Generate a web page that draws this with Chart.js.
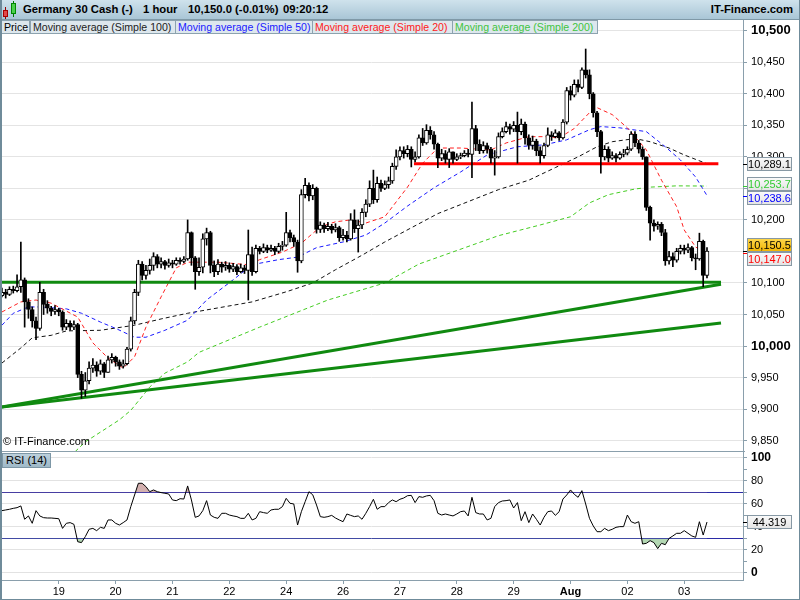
<!DOCTYPE html>
<html>
<head>
<meta charset="utf-8">
<title>Germany 30 Cash - 1 hour</title>
<script src="https://cdn.jsdelivr.net/npm/chart.js@4.4.1/dist/chart.umd.min.js"></script>
<style>
  body { margin: 0; background: #fff; font-family: "Liberation Sans", Arial, sans-serif; }
  #wrap { position: relative; width: 800px; height: 600px; overflow: hidden; background: #fff; }
  #head { position: absolute; left: 0; top: 0; width: 800px; height: 20px; box-sizing: border-box;
    background: linear-gradient(#cfe2ec, #a9c6d6); border-bottom: 1px solid #7f99a7;
    font-size: 11.3px; font-weight: bold; color: #000; }
  #head span { position: absolute; top: 3px; white-space: nowrap; }
  .ico { position: absolute; box-sizing: border-box; border: 1px solid; }
  .wick { position: absolute; width: 1px; }
  #legend div { position: absolute; top: 20px; height: 14px; box-sizing: border-box; border: 1px solid #8ca2ae;
    background: #dde7ed; font-size: 10.6px; line-height: 12px; padding-left: 2px; white-space: nowrap; overflow: hidden; }
  canvas { position: absolute; left: 0; }
  #main { top: 20px; }
  #rsiChart { top: 452px; }
  #sep { position: absolute; left: 0; top: 451px; width: 745px; height: 1px; background: #8a9fac; }
  #copy { position: absolute; left: 3px; top: 435px; font-size: 11px; color: #000; }
  #rsiLbl { position: absolute; left: 2px; top: 453px; height: 15px; padding: 0 3px; box-sizing: border-box;
    border: 1px solid #7d97a6; background: linear-gradient(#bcd0db, #9fb9c8); font-size: 11px; line-height: 13px; }
  #frame { position: absolute; left: 0; top: 0; width: 800px; height: 600px; box-sizing: border-box;
    border-left: 2px solid #6f8b9a; border-right: 1px solid #6f8b9a; border-bottom: 1px solid #6f8b9a; pointer-events: none; }
</style>
</head>
<body>
<div id="wrap">
  <canvas id="main" width="800" height="432"></canvas>
  <canvas id="rsiChart" width="800" height="148"></canvas>
  <div id="sep"></div>
  <div id="head">
    <div class="wick" style="left:5px;top:7px;height:12px;background:#900"></div>
    <div class="ico" style="left:3px;top:10px;width:5px;height:7px;background:#e34848;border-color:#a00"></div>
    <div class="wick" style="left:13px;top:1px;height:16px;background:#070"></div>
    <div class="ico" style="left:11px;top:3px;width:5px;height:11px;background:#4bd04b;border-color:#080"></div>
    <span style="left:23px">Germany 30 Cash (-)</span>
    <span style="left:143px">1 hour</span>
    <span style="left:188px">10,150.0 (-0.01%)</span>
    <span style="left:283px">09:20:12</span>
    <span style="right:7px">IT-Finance.com</span>
  </div>
  <div id="legend">
    <div style="left:1px;width:29px;color:#000">Price</div>
    <div style="left:30px;width:146px;color:#222">Moving average (Simple 100)</div>
    <div style="left:175px;width:138px;color:#2020ff">Moving average (Simple 50)</div>
    <div style="left:312px;width:141px;color:#ff2020">Moving average (Simple 20)</div>
    <div style="left:452px;width:146px;color:#3fc43f">Moving average (Simple 200)</div>
  </div>
  <div id="copy">© IT-Finance.com</div>
  <div id="rsiLbl">RSI (14)</div>
  <div id="frame"></div>
</div>
<script>
// hourly candles, 18 Jul - 3 Aug (open = previous close)
const firstOpen = 10080;
const closes = [
  10085,10082,10090,10088,10094,10105,10070,10058,10040,10028,10085,10066,10060,10055,10058,
  10054,10030,10036,10030,10034,9955,9930,9945,9965,9970,9960,9972,9958,9978,9982,
  9975,9968,9972,9995,10040,10085,10130,10112,10120,10128,10142,10130,10134,10128,10132,
  10130,10136,10134,10138,10180,10140,10118,10125,10170,10180,10128,10118,10130,10125,10128,
  10122,10126,10118,10124,10120,10145,10118,10155,10150,10156,10152,10155,10150,10158,10160,
  10180,10172,10165,10135,10240,10255,10238,10250,10185,10192,10186,10190,10184,10188,10172,
  10176,10170,10200,10186,10192,10212,10225,10250,10232,10258,10250,10256,10262,10285,10300,
  10310,10305,10312,10296,10300,10330,10322,10342,10335,10320,10298,10305,10296,10308,10296,
  10300,10302,10306,10304,10345,10320,10310,10318,10312,10298,10300,10332,10340,10348,10344,
  10350,10340,10352,10330,10318,10325,10310,10302,10318,10335,10332,10338,10330,10355,10405,
  10398,10415,10410,10438,10430,10400,10370,10340,10300,10312,10298,10302,10298,10304,10306,
  10312,10336,10322,10312,10300,10220,10195,10190,10193,10180,10135,10142,10136,10150,10155,
  10152,10156,10140,10138,10166,10112,10150.5
];
const highs = [
  10092,10090,10094,10095,10113,10165,10108,10075,10062,10046,10101,10090,10072,10063,10064,
  10060,10056,10042,10040,10040,10036,9960,9958,9975,9980,9975,9978,9974,9984,9988,
  9984,9978,9978,9998,10046,10090,10136,10134,10128,10138,10148,10145,10140,10136,10138,
  10136,10140,10140,10142,10200,10181,10142,10140,10178,10187,10182,10135,10137,10133,10134,
  10132,10131,10129,10130,10128,10184,10157,10160,10158,10162,10160,10160,10158,10163,10166,
  10212,10184,10176,10168,10248,10266,10259,10256,10252,10197,10195,10196,10193,10194,10190,
  10185,10182,10210,10216,10200,10218,10232,10262,10279,10268,10263,10262,10268,10290,10311,
  10316,10316,10318,10316,10308,10335,10345,10351,10348,10340,10322,10312,10310,10313,10308,
  10305,10306,10310,10312,10387,10350,10327,10324,10322,10315,10310,10338,10346,10355,10352,
  10356,10371,10360,10355,10335,10333,10328,10316,10322,10346,10340,10343,10340,10359,10410,
  10412,10422,10422,10441,10471,10438,10402,10372,10342,10318,10316,10308,10305,10308,10312,
  10316,10340,10340,10326,10316,10300,10222,10200,10197,10196,10185,10150,10148,10155,10160,
  10160,10162,10158,10146,10179,10168,10156
];
const lows = [
  10078,10076,10080,10084,10086,10085,10030,10044,10030,10010,10025,10050,10052,10048,10050,
  10048,10025,10026,10025,10026,9950,9917,9920,9940,9958,9952,9955,9950,9958,9973,
  9968,9963,9965,9970,9992,10035,10080,10105,10106,10114,10120,10124,10124,10122,10125,
  10124,10128,10130,10132,10136,10128,10090,10112,10116,10160,10116,10110,10113,10117,10120,
  10117,10118,10113,10116,10115,10073,10112,10116,10146,10148,10148,10150,10145,10148,10152,
  10158,10165,10158,10117,10132,10235,10230,10232,10179,10180,10180,10183,10179,10181,10166,
  10168,10165,10168,10180,10149,10186,10205,10221,10226,10228,10245,10248,10250,10258,10280,
  10295,10298,10300,10284,10292,10298,10318,10320,10328,10312,10283,10294,10290,10283,10290,
  10294,10297,10300,10300,10267,10310,10305,10306,10306,10290,10271,10298,10330,10338,10336,
  10340,10290,10335,10320,10312,10312,10302,10290,10298,10316,10326,10330,10326,10328,10352,
  10390,10395,10403,10408,10425,10392,10363,10332,10274,10295,10292,10296,10292,10296,10300,
  10303,10310,10316,10306,10296,10215,10168,10182,10185,10175,10128,10130,10126,10133,10146,
  10146,10148,10135,10121,10136,10094,10108
];

// moving averages, [candle index, value]
const ma20 = [[0,10054],[5,10070],[9,10073],[13,10068],[20,10046],[24,10005],[28,9981],[32,9965],[35,9983],
  [38,10030],[42,10078],[46,10124],[49,10133],[57,10133],[65,10129],[68,10137],[74,10149],[79,10163],
  [84,10189],[88,10197],[92,10200],[96,10195],[101,10205],[107,10252],[111,10290],[115,10314],[121,10314],
  [129,10311],[133,10322],[139,10332],[144,10332],[147,10330],[151,10345],[155,10370],[157,10378],
  [161,10367],[165,10346],[170,10311],[174,10263],[178,10221],[180,10184],[183,10157],[186,10147.0]];
const ma50 = [[0,10033],[3,10052],[7,10062],[10,10062],[17,10059],[21,10052],[26,10038],[30,10028],[35,10014],
  [38,10014],[43,10025],[49,10041],[54,10073],[61,10105],[66,10129],[73,10137],[78,10141],[83,10156],
  [90,10165],[96,10176],[101,10195],[107,10222],[114,10251],[121,10276],[128,10303],[136,10316],[143,10319],
  [149,10327],[155,10343],[158,10348],[163,10346],[170,10340],[175,10316],[179,10295],[183,10268],[186,10238.6]];
const ma100 = [[0,9973],[5,9997],[8,10013],[13,10017],[17,10024],[26,10025],[35,10033],[42,10043],[49,10052],
  [66,10070],[75,10086],[82,10100],[88,10121],[95,10144],[101,10165],[115,10210],[131,10248],[139,10263],
  [146,10283],[152,10300],[157,10316],[161,10324],[167,10329],[171,10324],[176,10314],[180,10303],[186,10289.1]];
const ma200 = [[18,9825],[22,9848],[31,9883],[34,9898],[39,9935],[43,9957],[49,9975],[52,9990],[68,10030],
  [86,10073],[101,10100],[110,10130],[131,10175],[142,10192],[150,10205],[155,10227],[160,10240],
  [167,10249],[171,10252],[178,10254],[186,10253.7]];

// drawn support / resistance lines, [candle index, price]
const supportFlat = [[-0.5,10101],[189.7,10101]];
const trendUpper = [[-0.5,9903],[189.7,10098]];
const trendLower = [[-0.5,9903],[189.7,10036.5]];
const resistance = [[108.7,10289],[189,10289]];

// RSI (14) per candle
const rsi = [
  54.2,54.8,55.4,56.2,56.8,58.3,46.7,49.6,43.2,54.2,49.6,48.1,47.8,47.8,47.5,
  47.2,38.8,43.2,43.8,42.3,27.2,26.4,31.6,38.0,38.8,36.8,39.7,38.8,46.1,46.1,
  43.2,41.7,43.8,46.1,57.7,67.8,78.0,78.0,75.1,70.7,72.2,70.7,69.9,69.3,68.7,
  63.5,62.9,64.6,64.3,75.7,63.5,48.4,49.6,54.2,62.9,50.4,48.4,47.5,51.9,51.9,
  50.4,49.6,49.0,47.5,47.5,51.9,46.1,47.5,53.3,52.5,51.9,54.8,55.4,55.4,57.7,
  64.9,60.6,60.0,41.7,53.3,62.0,70.7,68.0,59.1,49.0,48.4,49.0,50.1,47.8,46.1,
  44.6,51.3,50.1,49.0,49.6,46.7,51.9,57.7,64.1,55.4,57.7,57.7,61.2,63.5,62.0,
  64.1,65.2,67.2,67.5,61.2,66.4,65.8,67.0,67.5,62.9,51.9,50.4,51.3,50.4,49.6,
  51.3,53.3,53.9,49.6,65.8,52.5,51.3,51.3,46.1,47.5,57.7,61.2,62.6,62.9,63.5,
  56.5,61.2,45.5,53.3,43.8,51.3,46.7,41.7,48.4,53.3,53.9,50.1,53.3,64.3,67.8,
  72.2,68.4,65.8,71.6,60.0,47.5,40.9,35.9,35.9,38.8,36.8,38.0,39.7,40.3,40.3,
  50.4,44.6,43.2,44.6,25.2,25.8,28.1,26.4,21.2,25.8,24.6,30.1,32.2,34.5,34.5,
  36.8,34.5,32.2,31.0,44.6,33.0,44.319
];

// axis ticks
const dayIdx = [15, 30, 45, 60, 75, 90, 105, 120, 135, 150, 165, 180];
const dayLabels = ['19', '20', '21', '22', '24', '26', '27', '28', '29', 'Aug', '02', '03'];
const priceTicks = [9850, 9900, 9950, 10000, 10050, 10100, 10150, 10200, 10250, 10300, 10350, 10400, 10450, 10500];
const rsiTicks = [0, 10, 20, 30, 40, 50, 60, 70, 80, 90, 100];
const rsiBands = [30, 70];

Chart.defaults.font.family = '"Liberation Sans", Arial, sans-serif';
Chart.defaults.color = '#000';

const opens = closes.map((c, i) => (i === 0 ? firstOpen : closes[i - 1]));
const bodyData = closes.map((c, i) => ({ x: i, y: [opens[i], c] }));
const wickData = closes.map((c, i) => ({ x: i, y: [Math.min(lows[i], opens[i], c), Math.max(highs[i], opens[i], c)] }));
const pts = arr => arr.map(([x, y]) => ({ x, y }));

const AXIS = '#8a9fac';
const fixAxis = s => { s.width = 57; s.paddingTop = 0; s.paddingBottom = 0; };

// value tags on the right axis
const fmt1 = v => v.toLocaleString('en-US', { minimumFractionDigits: 1, maximumFractionDigits: 1 });
const tagPlugin = {
  id: 'tags',
  afterDraw(chart, args, opts) {
    const ctx = chart.ctx, ys = chart.scales.y, right = chart.chartArea.right;
    const h = 14;
    const tags = opts.items.map(t => ({ ...t, py: ys.getPixelForValue(t.value) })).sort((a, b) => a.py - b.py);
    // spread overlapping tags around their mean
    const groups = [];
    tags.forEach(t => {
      const g = groups[groups.length - 1];
      if (g && t.py - g[g.length - 1].py < h) g.push(t); else groups.push([t]);
    });
    groups.forEach(g => {
      const mid = g.reduce((s, t) => s + t.py, 0) / g.length;
      g.forEach((t, k) => { t.y = mid + (k - (g.length - 1) / 2) * (h + 0.5); });
    });
    ctx.save();
    tags.forEach(t => {
      ctx.strokeStyle = t.color; ctx.lineWidth = 1;
      ctx.beginPath(); ctx.moveTo(right, Math.round(t.py) + 0.5); ctx.lineTo(right + 4, Math.round(t.py) + 0.5); ctx.stroke();
      const x = right + 4, y = Math.round(t.y - h / 2), w = 45;
      const g = ctx.createLinearGradient(0, y, 0, y + h);
      g.addColorStop(0, t.bg[0]); g.addColorStop(1, t.bg[1]);
      ctx.fillStyle = g; ctx.fillRect(x, y, w, h);
      ctx.strokeStyle = '#8798a4'; ctx.strokeRect(x + 0.5, y + 0.5, w - 1, h - 1);
      ctx.fillStyle = t.color; ctx.font = '11px "Liberation Sans", Arial, sans-serif';
      ctx.textAlign = 'center'; ctx.textBaseline = 'middle';
      ctx.fillText(t.text, x + w / 2, y + h / 2 + 0.5);
    });
    ctx.restore();
  }
};
const grey = ['#fbfbfb', '#e3e3e3'];
const last = a => a[a.length - 1];
const mainTags = [
  { value: last(ma100)[1], text: fmt1(last(ma100)[1]), color: '#000000', bg: grey },
  { value: last(ma200)[1], text: fmt1(last(ma200)[1]), color: '#33cc33', bg: grey },
  { value: last(ma50)[1], text: fmt1(last(ma50)[1]), color: '#0000ff', bg: grey },
  { value: last(closes), text: fmt1(last(closes)), color: '#000000', bg: ['#ffd94f', '#f0b300'] },
  { value: last(ma20)[1], text: fmt1(last(ma20)[1]), color: '#ff0000', bg: grey }
];
const rsiTags = [{ value: last(rsi), text: last(rsi).toFixed(3), color: '#000000', bg: grey }];

const maLine = (data, color) => ({
  type: 'line', data: pts(data), borderColor: color, borderWidth: 1, borderDash: [4, 3],
  pointRadius: 0, tension: 0, fill: false, order: 3
});
const solidLine = (data, color) => ({
  type: 'line', data: pts(data), borderColor: color, borderWidth: 3,
  pointRadius: 0, tension: 0, fill: false, order: 2
});

new Chart(document.getElementById('main'), {
  type: 'bar',
  data: {
    datasets: [
      {
        data: bodyData, barThickness: 4, grouped: false, minBarLength: 1, order: 0,
        backgroundColor: bodyData.map(d => (d.y[1] >= d.y[0] ? '#ffffff' : '#000000')),
        borderColor: '#000000', borderWidth: 1, borderSkipped: false
      },
      { data: wickData, barThickness: 1, grouped: false, order: 1, backgroundColor: '#000000', borderWidth: 0 },
      solidLine(supportFlat, '#108a10'),
      solidLine(trendUpper, '#108a10'),
      solidLine(trendLower, '#108a10'),
      solidLine(resistance, '#ff0000'),
      maLine(ma20, '#ff2020'),
      maLine(ma50, '#1a1aff'),
      maLine(ma100, '#111111'),
      maLine(ma200, '#44cc22')
    ]
  },
  options: {
    responsive: false, animation: false, events: [],
    layout: { padding: 0 },
    plugins: { legend: { display: false }, tooltip: { enabled: false }, tags: { items: mainTags } },
    scales: {
      x: { type: 'linear', min: -0.5, max: 195.5, offset: false, display: false },
      y: {
        position: 'right', min: 9832, max: 10517,
        afterBuildTicks: s => { s.ticks = priceTicks.map(v => ({ value: v })); },
        afterFit: fixAxis,
        border: { color: AXIS },
        grid: { color: '#e4e4e4', tickLength: 4, tickColor: AXIS },
        ticks: {
          autoSkip: false, padding: 4, color: '#000',
          font: ctx => ({ size: ctx.tick && ctx.tick.value % 500 === 0 ? 13 : 11, weight: ctx.tick && ctx.tick.value % 500 === 0 ? 'bold' : 'normal' }),
          callback: v => v.toLocaleString('en-US')
        }
      }
    }
  },
  plugins: [tagPlugin]
});

new Chart(document.getElementById('rsiChart'), {
  type: 'line',
  data: {
    datasets: [
      {
        data: rsi.map((v, i) => ({ x: i, y: v })), borderColor: '#000000', borderWidth: 1,
        pointRadius: 0, tension: 0,
        fill: { target: { value: 70 }, above: 'rgba(196,150,148,0.75)', below: 'rgba(0,0,0,0)' }
      },
      {
        data: rsi.map((v, i) => ({ x: i, y: v })), borderWidth: 0, borderColor: 'rgba(0,0,0,0)',
        pointRadius: 0, tension: 0,
        fill: { target: { value: 30 }, above: 'rgba(0,0,0,0)', below: 'rgba(160,205,160,0.8)' }
      }
    ]
  },
  options: {
    responsive: false, animation: false, events: [],
    layout: { padding: 0 },
    plugins: { legend: { display: false }, tooltip: { enabled: false }, tags: { items: rsiTags } },
    scales: {
      x: {
        type: 'linear', min: -0.5, max: 195.5, offset: false,
        afterBuildTicks: s => { s.ticks = dayIdx.map(v => ({ value: v })); },
        afterFit: s => { s.height = 20; s.paddingLeft = 0; s.paddingRight = 0; },
        border: { color: AXIS },
        grid: { drawOnChartArea: false, tickLength: 4, color: AXIS },
        ticks: {
          autoSkip: false, maxRotation: 0, padding: 1, color: '#000',
          font: ctx => ({ size: 11, weight: ctx.tick && dayLabels[dayIdx.indexOf(ctx.tick.value)] === 'Aug' ? 'bold' : 'normal' }),
          callback: v => dayLabels[dayIdx.indexOf(v)]
        }
      },
      y: {
        position: 'right', min: -6.1, max: 105.2,
        afterBuildTicks: s => { s.ticks = rsiTicks.map(v => ({ value: v })); },
        afterFit: fixAxis,
        border: { color: AXIS },
        grid: {
          tickLength: 4, tickColor: AXIS,
          color: ctx => {
            const v = ctx.tick ? ctx.tick.value : -1;
            if (rsiBands.includes(v)) return '#2b2ba6';
            return v % 20 === 0 ? '#e2e2e2' : 'rgba(0,0,0,0)';
          }
        },
        ticks: {
          autoSkip: false, padding: 4, color: '#000',
          font: ctx => ({ size: ctx.tick && ctx.tick.value % 100 === 0 ? 12 : 11, weight: ctx.tick && ctx.tick.value % 100 === 0 ? 'bold' : 'normal' }),
          callback: v => (v % 20 === 0 ? String(v) : '')
        }
      }
    }
  },
  plugins: [tagPlugin]
});
</script>
</body>
</html>
